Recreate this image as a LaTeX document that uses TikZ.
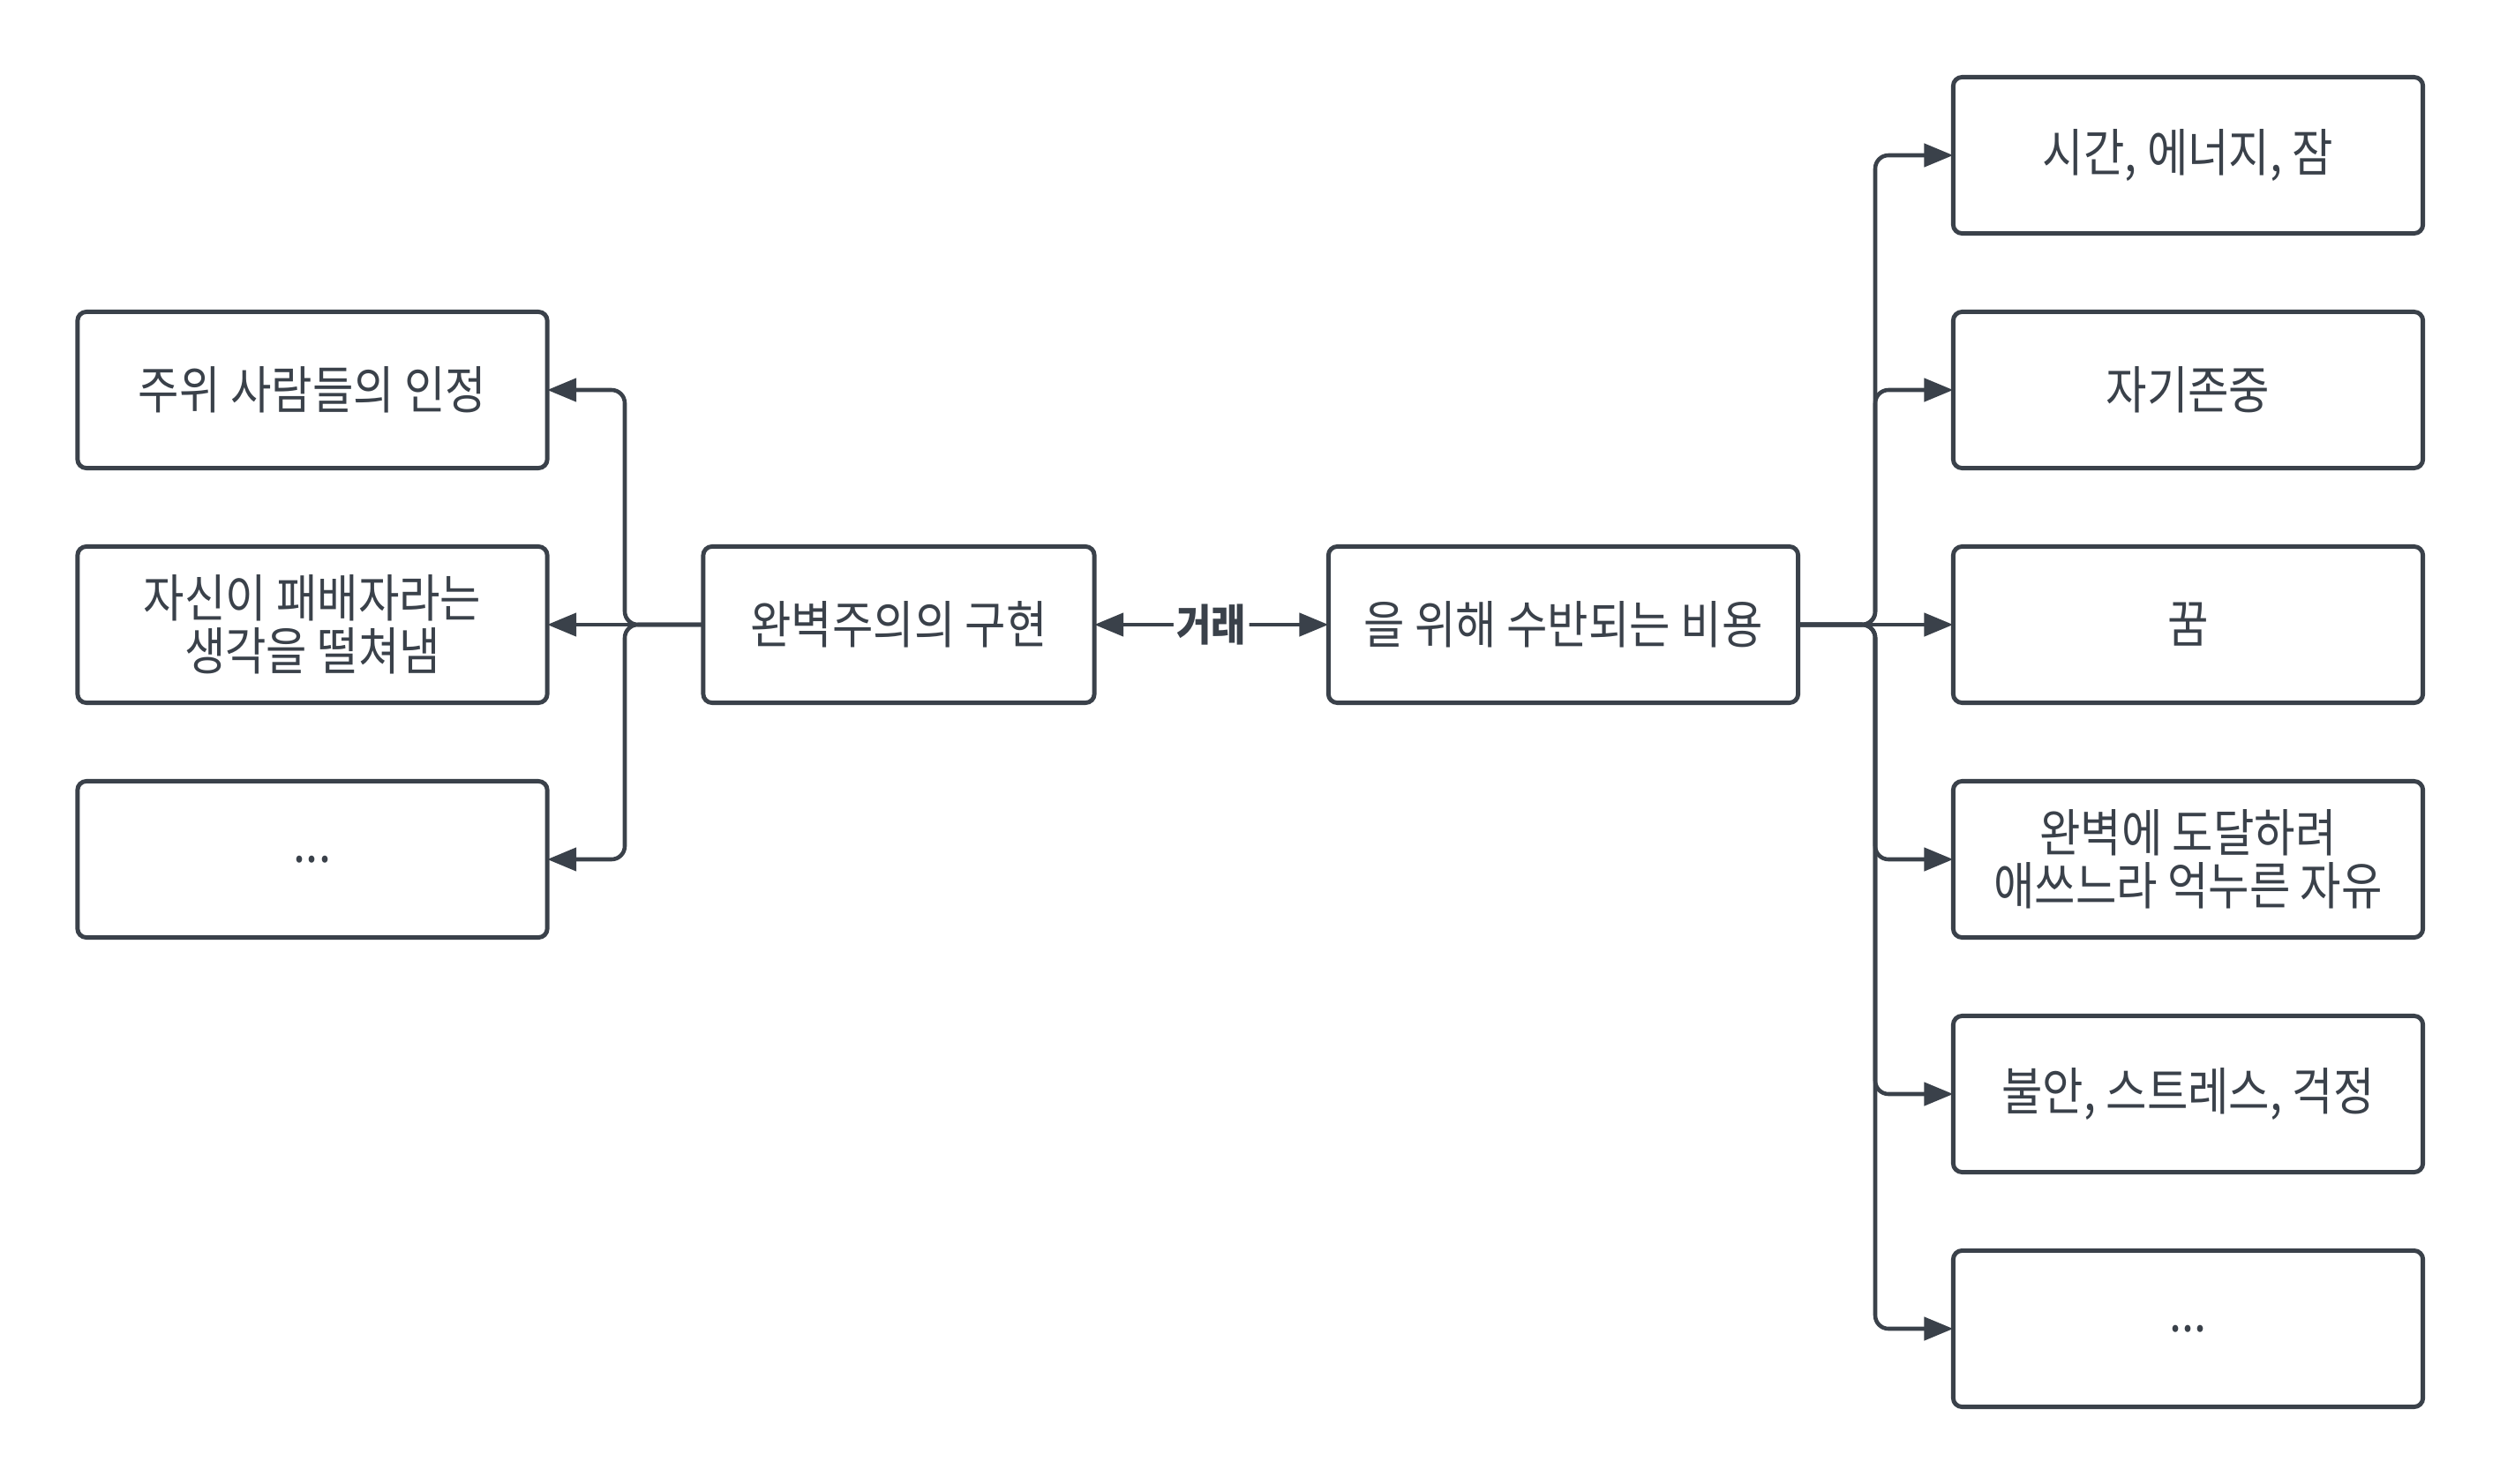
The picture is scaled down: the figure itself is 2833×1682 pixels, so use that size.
\documentclass[tikz,border=0pt]{standalone}
\usepackage{fontspec}
\setmainfont{Noto Sans CJK KR}[FakeStretch=0.87]
\usetikzlibrary{arrows.meta}
\definecolor{ink}{HTML}{3A414A}
\tikzset{
  box/.style={draw=ink, line width=1.4pt, rounded corners=0.1cm, minimum width=5.32cm, minimum height=1.77cm, inner sep=0pt, outer sep=0pt, align=center, text=ink, font=\fontsize{16.5}{17}\selectfont},
  conn/.style={draw=ink, line width=1.3pt, rounded corners=0.15cm, -{Triangle[length=0.33cm,width=0.26cm]}},
  lbl/.style={fill=white, text=ink, inner sep=1pt, font=\fontsize{14}{17}\selectfont\bfseries}
}
\begin{document}
\begin{tikzpicture}[x=0.01cm,y=-0.01cm]
\useasboundingbox (0,0) rectangle (2833,1682);
% left boxes
\node[box] (l1) at (354,442) {주위 사람들의 인정};
\node[box] (l2) at (354,708) {자신이 패배자라는\\생각을 떨쳐냄};
\node[box] (l3) at (354,974) {...};
% center boxes
\node[box, minimum width=4.43cm] (c1) at (1018.5,708) {완벽주의의 구현};
\node[box] (c2) at (1771.5,708) {을 위해 수반되는 비용};
% right boxes
\node[box] (r1) at (2479.5,176) {시간, 에너지, 잠};
\node[box] (r2) at (2479.5,442) {자기존중};
\node[box] (r3) at (2479.5,708) {꿈};
\node[box] (r4) at (2479.5,974) {완벽에 도달하려\\애쓰느라 억누른 자유};
\node[box] (r5) at (2479.5,1240) {불안, 스트레스, 걱정};
\node[box] (r6) at (2479.5,1506) {...};
% trunks
\coordinate (lt) at (708,708);
\coordinate (rt) at (2125,708);
% left connectors
\draw[conn] (c1.west) -- (lt) |- (l1.east);
\draw[conn] (c1.west) -- (l2.east);
\draw[conn] (c1.west) -- (lt) |- (l3.east);
% right connectors
\draw[conn] (c2.east) -- (rt) |- (r1.west);
\draw[conn] (c2.east) -- (rt) |- (r2.west);
\draw[conn] (c2.east) -- (r3.west);
\draw[conn] (c2.east) -- (rt) |- (r4.west);
\draw[conn] (c2.east) -- (rt) |- (r5.west);
\draw[conn] (c2.east) -- (rt) |- (r6.west);
% double arrow
\draw[conn, {Triangle[length=0.33cm,width=0.26cm]}-{Triangle[length=0.33cm,width=0.26cm]}] (c1.east) -- node[lbl] (deal) {거래} (c2.west);
\end{tikzpicture}
\end{document}
